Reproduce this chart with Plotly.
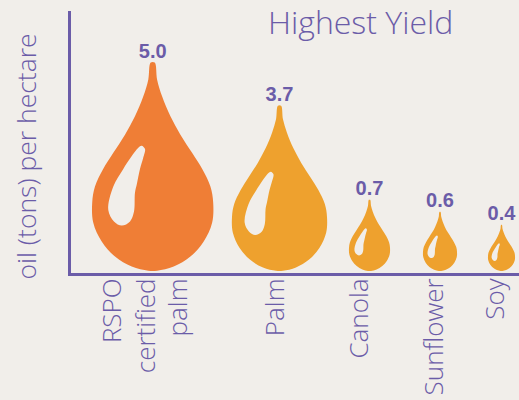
import plotly.graph_objects as go

categories = ["RSPO certified palm", "Palm", "Canola", "Sunflower", "Soy"]
values = [5.0, 3.7, 0.7, 0.6, 0.4]
value_labels = ["5.0", "3.7", "0.7", "0.6", "0.4"]
x_centers = [152.7, 279.5, 369.5, 440, 501.5]
drop_heights = [208, 165, 71, 59, 46]
drop_widths = [121, 95, 41, 34, 27]
drop_colors = ["#EF7E36", "#EEA12E", "#EEA12E", "#EEA12E", "#EEA12E"]
tick_positions = [113, 147, 179, 276, 360, 435, 496]
tick_labels = ["RSPO", "certified", "palm", "Palm", "Canola", "Sunflower", "Soy"]

BG = "#F1EEEA"
PURPLE = "#6B5CA8"
BASE = 2

# Drop outline in unit coordinates: (half-width fraction, height fraction)
half_outline = [(0.033, 1.0), (0.073, 0.918), (0.155, 0.838), (0.293, 0.742), (0.458, 0.654),
                (0.651, 0.567), (0.821, 0.488), (0.954, 0.405), (1.0, 0.327), (0.982, 0.231),
                (0.843, 0.141), (0.623, 0.069), (0.347, 0.021), (0.073, 0.001)]
outline = half_outline + [(-x, y) for x, y in reversed(half_outline)]
highlight = [(-0.183, 0.601), (-0.127, 0.585), (-0.16, 0.54), (-0.21, 0.49), (-0.26, 0.42), (-0.293, 0.375),
             (-0.309, 0.285), (-0.375, 0.238), (-0.512, 0.218), (-0.64, 0.238), (-0.734, 0.293),
             (-0.651, 0.405), (-0.486, 0.49), (-0.238, 0.591)]

fig = go.Figure()
for cat, val, cx, h, w, col in zip(categories, values, x_centers, drop_heights, drop_widths, drop_colors):
    fig.add_trace(go.Scatter(
        x=[cx + px * w / 2 for px, _ in outline] + [cx + outline[0][0] * w / 2],
        y=[BASE + py * h for _, py in outline] + [BASE + outline[0][1] * h],
        mode="lines", fill="toself", fillcolor=col, line=dict(width=0, shape="spline", smoothing=1),
        name=cat, hoverinfo="skip", showlegend=False))
    fig.add_trace(go.Scatter(
        x=[cx + px * w / 2 for px, _ in highlight] + [cx + highlight[0][0] * w / 2],
        y=[BASE + py * h for _, py in highlight] + [BASE + highlight[0][1] * h],
        mode="lines", fill="toself", fillcolor=BG, line=dict(width=0, shape="spline", smoothing=1),
        hoverinfo="skip", showlegend=False))

fig.add_trace(go.Scatter(
    x=x_centers, y=[BASE + h for h in drop_heights], mode="text", text=value_labels,
    textposition="top center", cliponaxis=False,
    textfont=dict(family="Liberation Sans", size=20, color=PURPLE, weight="bold"),
    hoverinfo="skip", showlegend=False))

fig.update_layout(
    width=519, height=400, autosize=False, showlegend=False,
    paper_bgcolor=BG, plot_bgcolor=BG,
    margin=dict(l=71, r=0, t=11, b=127, autoexpand=False),
    title=dict(text="Highest Yield", x=268 / 519, xanchor="left", y=0.972, yanchor="top", pad=dict(t=0, l=0),
               font=dict(family="Open Sans", size=32, color=PURPLE, weight=300)),
    xaxis=dict(range=[71, 519], showgrid=False, zeroline=False, showline=True, linecolor=PURPLE, linewidth=3,
               tickmode="array", tickvals=tick_positions, ticktext=tick_labels, tickangle=-90,
               ticks="", ticklabelstandoff=-8,
               tickfont=dict(family="Open Sans", size=26, color=PURPLE, weight=300), automargin=False),
    yaxis=dict(range=[0, 261.5], showgrid=False, zeroline=False, showline=True, linecolor=PURPLE, linewidth=3,
               showticklabels=False, ticks="", automargin=False),
    annotations=[dict(text="oil (tons) per hectare", textangle=-90, xref="paper", yref="paper",
                      x=(26 - 71) / 448, y=(272 - 156) / 261, xanchor="center", yanchor="middle", showarrow=False,
                      font=dict(family="Open Sans", size=26.5, color=PURPLE, weight=300))],
)
fig.write_html("out.html", post_script="document.body.style.margin='0';", config={"displayModeBar": False})
